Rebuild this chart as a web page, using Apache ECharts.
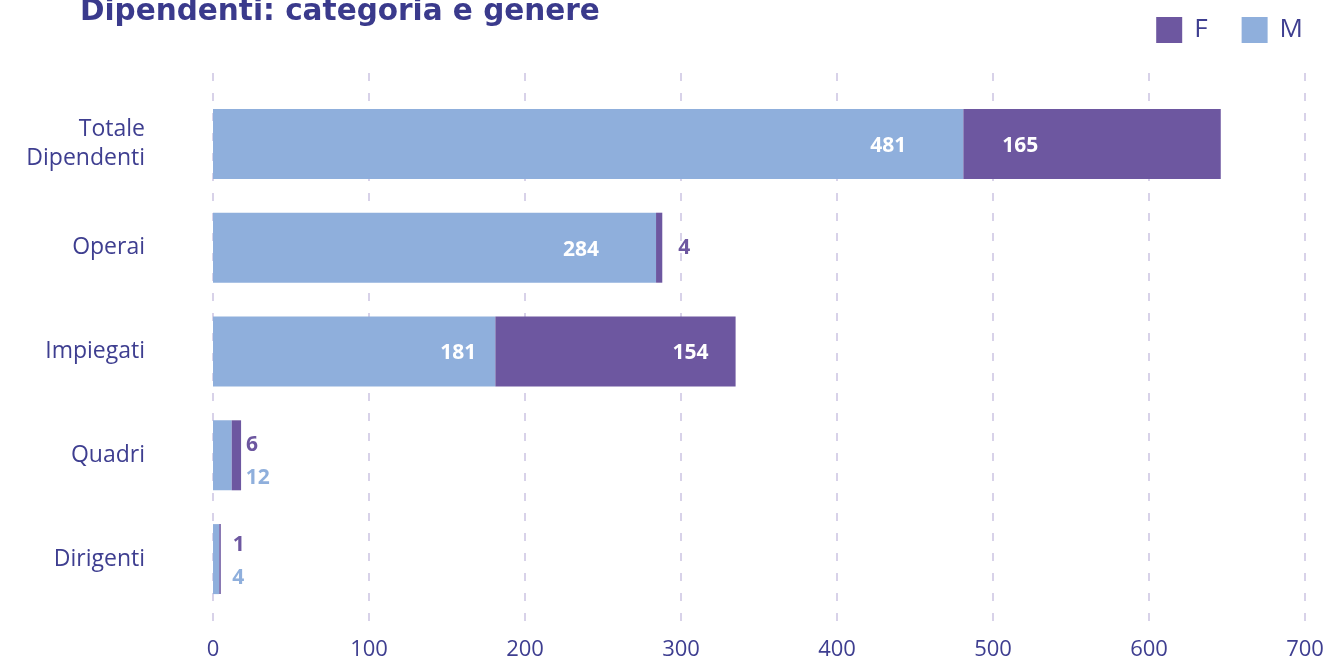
<!DOCTYPE html>
<html>
<head>
<meta charset="utf-8">
<script src="https://cdn.jsdelivr.net/npm/echarts@6/dist/echarts.min.js"></script>
<style>
html,body{margin:0;padding:0;background:#fff;}
#chart{width:1328px;height:661px;}
</style>
</head>
<body>
<div id="chart"></div>
<script>
const titleText = 'Dipendenti: categoria e genere';
const categories = ['Totale\nDipendenti', 'Operai', 'Impiegati', 'Quadri', 'Dirigenti'];
const maleValues = [481, 284, 181, 12, 4];
const femaleValues = [165, 4, 154, 6, 1];
const xTicks = { min: 0, max: 700, interval: 100 };

const colorM = '#8FAFDC';
const colorF = '#6D57A0';
const textColor = '#3E3E90';
const fontFam = '"Open Sans", "Noto Sans", sans-serif';

// label placement per bar (style only)
const maleLabelCfg = [
  { position: 'insideRight', offset: [-52, 2], color: '#fff' },
  { position: 'insideRight', offset: [-52, 2], color: '#fff' },
  { position: 'insideRight', offset: [-14, 2], color: '#fff' },
  { position: 'right', offset: [9, 23], color: colorM },
  { position: 'right', offset: [8, 19], color: colorM }
];
const femaleLabelCfg = [
  { position: 'insideLeft', offset: [34, 2], color: '#fff' },
  { position: 'right', offset: [11, 0], color: colorF },
  { position: 'insideRight', offset: [-22, 2], color: '#fff' },
  { position: 'right', offset: [0, -10], color: colorF },
  { position: 'right', offset: [7, -14], color: colorF }
];

function buildData(values, cfgs) {
  return values.map((v, i) => ({
    value: v,
    label: Object.assign({ show: true }, cfgs[i])
  }));
}

const chart = echarts.init(document.getElementById('chart'));
chart.setOption({
  animation: false,
  backgroundColor: '#fff',
  title: {
    text: titleText,
    left: 80, top: -3, padding: 0,
    textStyle: { fontFamily: '"DejaVu Sans", sans-serif', fontWeight: 'bold', fontSize: 29.5, color: '#3A3A8C' }
  },
  legend: {
    data: ['F', 'M'],
    right: 25, top: 17, padding: 0,
    itemWidth: 26, itemHeight: 26, itemGap: 34,
    icon: 'rect',
    textStyle: { fontFamily: fontFam, fontSize: 26, color: textColor, padding: [0, 0, 0, 7] }
  },
  grid: [
    { left: 213, right: 23, top: 92, bottom: 50 },
    { left: 213, right: 23, top: 73, bottom: 36 }
  ],
  xAxis: [
    { type: 'value', gridIndex: 0, min: xTicks.min, max: xTicks.max, interval: xTicks.interval, show: false },
    {
      type: 'value', gridIndex: 1, min: xTicks.min, max: xTicks.max, interval: xTicks.interval,
      axisLine: { show: false }, axisTick: { show: false },
      splitLine: { show: true, lineStyle: { color: '#CCC4E2', type: [8, 12], width: 1.5 } },
      axisLabel: { margin: 15, fontFamily: fontFam, fontSize: 22, color: textColor }
    }
  ],
  yAxis: [
    {
      type: 'category', gridIndex: 0, inverse: true, data: categories,
      axisLine: { show: false }, axisTick: { show: false }, splitLine: { show: false },
      axisLabel: { margin: 68, fontFamily: fontFam, fontSize: 23, color: textColor, lineHeight: 29, align: 'right' }
    },
    { type: 'value', gridIndex: 1, show: false, min: 0, max: 1, splitLine: { show: false } }
  ],
  series: [
    {
      name: 'M', type: 'bar', stack: 'tot', xAxisIndex: 0, yAxisIndex: 0, barWidth: 70,
      itemStyle: { color: colorM },
      label: { fontFamily: fontFam, fontWeight: 'bold', fontSize: 21 },
      data: buildData(maleValues, maleLabelCfg)
    },
    {
      name: 'F', type: 'bar', stack: 'tot', xAxisIndex: 0, yAxisIndex: 0, barWidth: 70,
      itemStyle: { color: colorF },
      label: { fontFamily: fontFam, fontWeight: 'bold', fontSize: 21 },
      data: buildData(femaleValues, femaleLabelCfg)
    }
  ]
});
</script>
</body>
</html>
